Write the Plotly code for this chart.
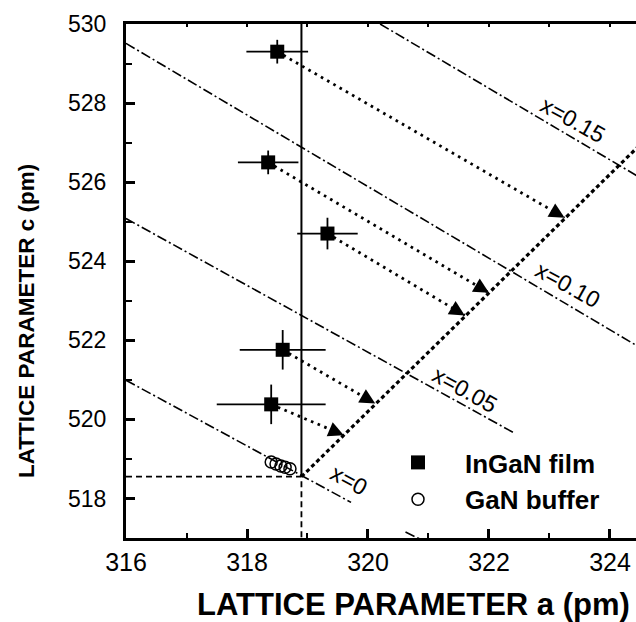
import plotly.graph_objects as go
import math

# ---------------- data ----------------
a_ticks = [316, 318, 320, 322, 324]
a_minor = [317, 319, 321, 323]
c_ticks = [518, 520, 522, 524, 526, 528, 530]
c_minor = [519, 521, 523, 525, 527, 529]

ingan_a = [318.50, 318.35, 319.33, 318.59, 318.40]
ingan_c = [529.30, 526.50, 524.70, 521.76, 520.38]
ingan_a_err = [0.51, 0.50, 0.50, 0.71, 0.90]
ingan_c_err = [0.30, 0.30, 0.40, 0.50, 0.50]

gan_a = [318.40, 318.48, 318.56, 318.63, 318.71]
gan_c = [518.92, 518.87, 518.82, 518.79, 518.75]

gan_relaxed_a = 318.90
gan_relaxed_c = 518.55

relax_line_a = [318.90, 325.00]
relax_line_c = [518.55, 527.70]

arrow_tip_a = [323.25, 322.00, 321.60, 320.12, 319.60]
arrow_tip_c = [525.10, 523.20, 522.63, 520.40, 519.60]

iso_labels = ["x=0", "x=0.05", "x=0.10", "x=0.15"]
iso_a = [[316.0, 319.72], [316.0, 322.40], [316.0, 325.0], [320.2, 325.0]]
iso_c = [[520.99, 517.90], [525.08, 519.67], [529.51, 521.36], [530.0, 525.66]]
iso_label_a = [319.68, 321.61, 323.31, 323.39]
iso_label_c = [518.46, 520.75, 523.40, 527.57]

frag_a = [320.62, 320.85]
frag_c = [517.15, 516.98]

x_range = [316.0, 324.43]
y_range = [517.0, 530.0]

# ---------------- figure ----------------
W, H = 636, 622
ML, MR, MT, MB = 126, 0, 24, 84
FONT = "Liberation Sans, Arial, sans-serif"

fig = go.Figure()

DASHDOT = "10px,3px,2px,3px"
for a, c in zip(iso_a, iso_c):
    fig.add_trace(go.Scatter(x=a, y=c, mode="lines", showlegend=False, hoverinfo="skip",
                             line=dict(color="black", width=1.6, dash=DASHDOT)))
fig.add_trace(go.Scatter(x=frag_a, y=frag_c, mode="lines", showlegend=False, hoverinfo="skip",
                         line=dict(color="black", width=1.6, dash=DASHDOT)))

# relaxed GaN guide lines
fig.add_trace(go.Scatter(x=[x_range[0], gan_relaxed_a, gan_relaxed_a],
                         y=[gan_relaxed_c, gan_relaxed_c, y_range[0]],
                         mode="lines", showlegend=False, hoverinfo="skip",
                         line=dict(color="black", width=1.8, dash="6px,4px")))
fig.add_trace(go.Scatter(x=[gan_relaxed_a, gan_relaxed_a], y=[gan_relaxed_c, y_range[1]],
                         mode="lines", showlegend=False, hoverinfo="skip",
                         line=dict(color="black", width=2)))

# relaxation line
fig.add_trace(go.Scatter(x=relax_line_a, y=relax_line_c, mode="lines", showlegend=False,
                         hoverinfo="skip", line=dict(color="black", width=3.2, dash="4px,3px")))

# dotted arrows
for a0, c0, a1, c1 in zip(ingan_a, ingan_c, arrow_tip_a, arrow_tip_c):
    fig.add_trace(go.Scatter(x=[a0, a1], y=[c0, c1], mode="lines", showlegend=False,
                             hoverinfo="skip",
                             line=dict(color="black", width=2.8, dash="2.6px,4.6px")))

# data points
fig.add_trace(go.Scatter(
    x=ingan_a, y=ingan_c, mode="markers", name="InGaN film",
    marker=dict(symbol="square", size=14, color="black"),
    error_x=dict(type="data", array=ingan_a_err, color="black", thickness=1.8, width=0),
    error_y=dict(type="data", array=ingan_c_err, color="black", thickness=1.8, width=0),
))
fig.add_trace(go.Scatter(
    x=gan_a, y=gan_c, mode="markers", name="GaN buffer",
    marker=dict(symbol="circle-open", size=12, color="black", line=dict(width=1.5, color="black")),
))

# dummy trace for the top axis
fig.add_trace(go.Scatter(x=[None], y=[None], xaxis="x2", showlegend=False, hoverinfo="skip"))

# arrow heads
sx = (W - ML - MR) / (x_range[1] - x_range[0])
sy = (H - MT - MB) / (y_range[1] - y_range[0])
annotations = []
for a0, c0, a1, c1 in zip(ingan_a, ingan_c, arrow_tip_a, arrow_tip_c):
    dpx = math.hypot((a1 - a0) * sx, (c1 - c0) * sy)
    f = 10.0 / dpx
    annotations.append(dict(
        x=a1, y=c1, ax=a1 - f * (a1 - a0), ay=c1 - f * (c1 - c0),
        xref="x", yref="y", axref="x", ayref="y", text="", showarrow=True,
        arrowhead=2, arrowsize=1.8, arrowwidth=1.7, arrowcolor="black",
    ))

# composition labels
for lab, la, lc in zip(iso_labels, iso_label_a, iso_label_c):
    annotations.append(dict(x=la, y=lc, xref="x", yref="y", text=lab, showarrow=False,
                            textangle=29, font=dict(family=FONT, size=23, color="black")))

# axis titles
annotations.append(dict(x=(413 - ML) / (W - ML - MR), y=1 - (604 - MT) / (H - MT - MB),
                        xref="paper", yref="paper", xanchor="center", yanchor="middle",
                        text="<b>LATTICE PARAMETER a (pm)</b>", showarrow=False,
                        font=dict(family=FONT, size=31, color="black")))
annotations.append(dict(x=(26 - ML) / (W - ML - MR), y=1 - (321 - MT) / (H - MT - MB),
                        xref="paper", yref="paper", xanchor="center", yanchor="middle",
                        text="<b>LATTICE PARAMETER c (pm)</b>", showarrow=False, textangle=-90,
                        font=dict(family=FONT, size=22.5, color="black")))

axis_common = dict(showgrid=False, zeroline=False, showline=True, linewidth=3, linecolor="black",
                   ticks="inside", ticklen=9, tickwidth=2.5, tickcolor="black")

fig.update_layout(
    width=W, height=H,
    margin=dict(l=ML, r=MR, t=MT, b=MB, pad=0),
    paper_bgcolor="white", plot_bgcolor="white",
    font=dict(family=FONT, color="black"),
    xaxis=dict(range=x_range, tickmode="array", tickvals=a_ticks, ticktext=[str(v) for v in a_ticks],
               tickfont=dict(family=FONT, size=25), mirror=True, ticklabelstandoff=0,
               minor=dict(tickmode="array", tickvals=a_minor, ticks="inside", ticklen=5,
                          tickwidth=2, tickcolor="black"),
               **axis_common),
    xaxis2=dict(overlaying="x", matches="x", side="top", anchor="y", showline=False,
                showgrid=False, zeroline=False, ticks="inside", ticklen=3, tickwidth=2,
                tickcolor="black", tickmode="array", tickvals=a_ticks + a_minor,
                showticklabels=False),
    yaxis=dict(range=y_range, tickmode="array", tickvals=c_ticks, ticktext=[str(v) for v in c_ticks],
               tickfont=dict(family=FONT, size=23), mirror=False, ticklabelstandoff=12,
               minor=dict(tickmode="array", tickvals=c_minor, ticks="inside", ticklen=6,
                          tickwidth=2, tickcolor="black"),
               **axis_common),
    legend=dict(x=(371 - ML) / (W - ML - MR), y=1 - (439 - MT) / (H - MT - MB),
                xanchor="left", yanchor="top", bgcolor="rgba(0,0,0,0)", itemwidth=84,
                font=dict(family=FONT, size=26, color="black", weight="bold")),
    annotations=annotations,
    showlegend=True,
)

fig.write_html("out.html")
